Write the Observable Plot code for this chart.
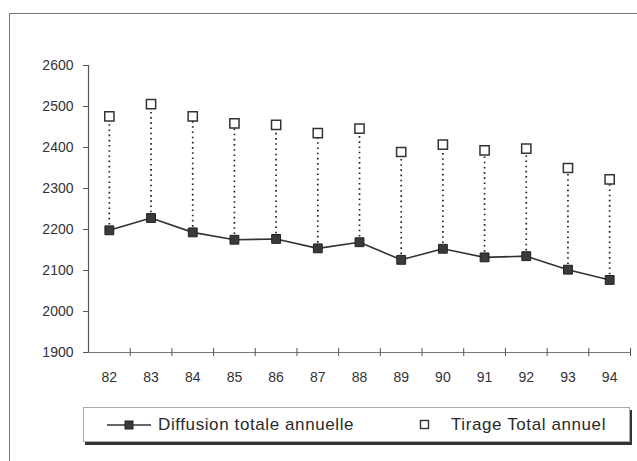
<!DOCTYPE html>
<html>
<head>
<meta charset="utf-8">
<script src="https://cdn.jsdelivr.net/npm/d3@7"></script>
<script src="https://cdn.jsdelivr.net/npm/@observablehq/plot@0.6"></script>
<style>
  html, body { margin: 0; padding: 0; background: #fff; }
  #wrap { position: relative; width: 637px; height: 461px; overflow: hidden; font-family: "Liberation Sans", Arial, sans-serif; }
  #frame { position: absolute; left: 9px; top: 13px; width: 640px; height: 460px; border-top: 1.5px solid #777; border-left: 1.5px solid #777; }
  #chart { position: absolute; left: 0; top: 0; }
  #legend { position: absolute; left: 83px; top: 407px; width: 545px; height: 33px; border: 1px solid #aaa; box-shadow: 2px 3px 0 #333; background: #fff; color: #2a2a2a; font-size: 17px; letter-spacing: 0.6px; }
  #legend .item { position: absolute; top: 0; height: 33px; display: flex; align-items: center; }
</style>
</head>
<body>
<div id="wrap">
  <div id="frame"></div>
  <div id="chart"></div>
  <div id="legend">
    <div class="item" style="left:23px">
      <svg width="44" height="12" style="margin-right:7px"><line x1="0" y1="6" x2="44" y2="6" stroke="#333" stroke-width="1.6"/><rect x="18" y="2" width="8" height="8" fill="#3a3a3a" stroke="#222"/></svg>
      <span>Diffusion totale annuelle</span>
    </div>
    <div class="item" style="left:335px">
      <svg width="12" height="12" style="margin-right:20px"><rect x="1.5" y="1.5" width="8" height="8" fill="#fff" stroke="#333" stroke-width="1.4"/></svg>
      <span>Tirage Total annuel</span>
    </div>
  </div>
</div>
<script>
const years = [82, 83, 84, 85, 86, 87, 88, 89, 90, 91, 92, 93, 94];
const diffusion = [2198, 2228, 2193, 2175, 2177, 2154, 2169, 2126, 2153, 2132, 2135, 2102, 2077];
const tirage = [2476, 2506, 2476, 2459, 2455, 2435, 2446, 2389, 2407, 2393, 2397, 2350, 2322];
const yTicks = [1900, 2000, 2100, 2200, 2300, 2400, 2500, 2600];

const data = years.map((y, i) => ({year: y, diffusion: diffusion[i], tirage: tirage[i]}));
const boundaries = years.map(y => y - 0.5).concat([years[years.length - 1] + 0.5]);

const plot = Plot.plot({
  width: 637,
  height: 461,
  marginLeft: 88,
  marginRight: 7,
  marginTop: 65,
  marginBottom: 109,
  style: {fontFamily: "Liberation Sans, Arial, sans-serif", fontSize: "14px", color: "#333", background: "transparent"},
  x: {domain: [years[0] - 0.5, years[years.length - 1] + 0.5], axis: null, label: null},
  y: {domain: [1900, 2600], axis: null, label: null},
  marks: [
    Plot.axisY({ticks: yTicks, label: null, tickSize: 5, tickPadding: 10, tickFormat: d => String(d), stroke: "#555", fill: "#333", style: {letterSpacing: "1.2px"}}),
    Plot.axisX({ticks: years, label: null, tickSize: 0, tickPadding: 20, tickFormat: d => String(d), fill: "#333", style: {letterSpacing: "1.2px"}}),
    Plot.ruleX([boundaries[0]], {y1: 1900, y2: 2600, stroke: "#555", strokeWidth: 1.2}),
    Plot.ruleY([1900], {stroke: "#777", strokeWidth: 1}),
    Plot.ruleX(boundaries.slice(1), {y1: 1890, y2: 1910, stroke: "#555", strokeWidth: 1}),
    Plot.ruleX(data, {x: "year", y1: "diffusion", y2: "tirage", stroke: "#222", strokeWidth: 1.7, strokeDasharray: "1.6,3.6"}),
    Plot.line(data, {x: "year", y: "diffusion", stroke: "#333", strokeWidth: 1.6}),
    Plot.dot(data, {x: "year", y: "diffusion", symbol: "square", r: 5, fill: "#3a3a3a", stroke: "#222", strokeWidth: 1}),
    Plot.dot(data, {x: "year", y: "tirage", symbol: "square", r: 5.2, fill: "#fff", stroke: "#333", strokeWidth: 1.5})
  ]
});
document.getElementById("chart").appendChild(plot);
</script>
</body>
</html>
